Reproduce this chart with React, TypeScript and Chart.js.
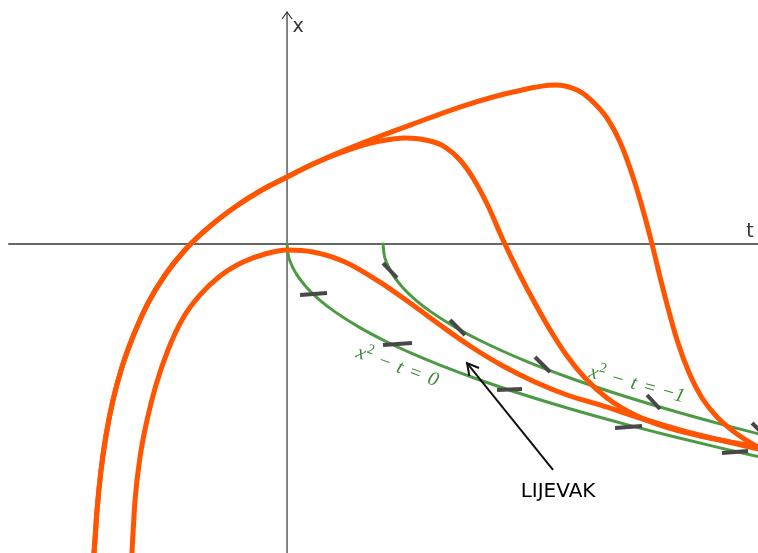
import React, { useEffect, useRef } from "react";
import { Chart, registerables } from "chart.js";

Chart.register(...registerables);

// Visible window of the (t, x) plane
const T_MIN = -2.99;
const T_MAX = 4.906;
const X_MIN = -3.219;
const X_MAX = 2.542;

// Solutions of x' = x^2 - t, as [t, x]
const solutionTop: [number, number][] = [
  [-2.031, -3.396], [-2.01, -3.208], [-1.979, -2.771], [-1.9375, -2.354], [-1.885, -1.99],
  [-1.8125, -1.625], [-1.719, -1.281], [-1.594, -0.9375], [-1.448, -0.615], [-1.271, -0.323],
  [-1.063, -0.0625], [-0.823, 0.167], [-0.542, 0.385], [-0.281, 0.552], [0, 0.698],
  [0.271, 0.833], [0.552, 0.958], [0.865, 1.083], [1.3125, 1.25], [1.833, 1.4375],
  [2.354, 1.583], [2.792, 1.656], [3.021, 1.604], [3.156, 1.51], [3.333, 1.3125],
  [3.469, 1.0625], [3.604, 0.698], [3.708, 0.354], [3.802, 0], [3.906, -0.427],
  [4.0625, -1.0], [4.198, -1.365], [4.323, -1.604], [4.479, -1.802], [4.6875, -1.979],
  [4.906, -2.115], [5.031, -2.177],
];

const solutionMiddle: [number, number][] = [
  [-2.031, -3.396], [-2.01, -3.208], [-1.979, -2.771], [-1.9375, -2.354], [-1.885, -1.99],
  [-1.8125, -1.625], [-1.719, -1.281], [-1.594, -0.9375], [-1.448, -0.615], [-1.271, -0.323],
  [-1.063, -0.0625], [-0.823, 0.167], [-0.542, 0.385], [-0.281, 0.552], [0, 0.698],
  [0.271, 0.833], [0.552, 0.948], [0.792, 1.031], [0.969, 1.073], [1.229, 1.104],
  [1.49, 1.073], [1.646, 1.01], [1.802, 0.875], [1.9375, 0.6875], [2.094, 0.396],
  [2.25, 0.042], [2.427, -0.323], [2.604, -0.656], [2.76, -0.927], [2.917, -1.167],
  [3.104, -1.396], [3.333, -1.604], [3.604, -1.771], [3.9375, -1.906], [4.302, -2.0],
  [4.615, -2.0625], [4.906, -2.115], [5.031, -2.146],
];

const solutionLow: [number, number][] = [
  [-1.625, -3.396], [-1.615, -3.208], [-1.583, -2.667], [-1.531, -2.219], [-1.458, -1.833],
  [-1.365, -1.469], [-1.24, -1.104], [-1.083, -0.771], [-0.906, -0.531], [-0.698, -0.333],
  [-0.458, -0.1875], [-0.229, -0.104], [0, -0.0625], [0.271, -0.083], [0.604, -0.1875],
  [0.948, -0.385], [1.281, -0.615], [1.594, -0.844], [1.906, -1.0625], [2.25, -1.271],
  [2.583, -1.4375], [2.917, -1.573], [3.26, -1.677], [3.677, -1.8125], [4.094, -1.9375],
  [4.51, -2.042], [4.906, -2.135], [5.031, -2.167],
];

// Isoclines x^2 - t = 0 and x^2 - t = -1 (lower branches)
const isoclineZero: [number, number][] = [
  [0, 0], [0.01, -0.1], [0.04, -0.2], [0.1, -0.316], [0.2, -0.447], [0.35, -0.592],
  [0.5, -0.707], [0.75, -0.866], [1.0, -1.0], [1.3, -1.14], [1.6, -1.265], [2.0, -1.414],
  [2.5, -1.581], [3.0, -1.732], [3.5, -1.871], [4.0, -2.0], [4.5, -2.121], [5.0, -2.236],
];

const isoclineMinusOne: [number, number][] = [
  [1.0, 0], [1.01, -0.1], [1.04, -0.2], [1.1, -0.316], [1.2, -0.447], [1.35, -0.592],
  [1.5, -0.707], [1.75, -0.866], [2.0, -1.0], [2.5, -1.225], [3.0, -1.414], [3.5, -1.581],
  [4.0, -1.732], [4.5, -1.871], [5.0, -2.0],
];

// Direction-field marks: [t1, x1, t2, x2]
const slopeMarksZero: [number, number, number, number][] = [
  [0.135, -0.531, 0.417, -0.51],
  [1.0, -1.052, 1.302, -1.031],
  [2.1875, -1.521, 2.448, -1.51],
  [3.417, -1.917, 3.698, -1.896],
  [4.531, -2.177, 4.802, -2.156],
];
const slopeMarksMinusOne: [number, number, number, number][] = [
  [1.0, -0.198, 1.146, -0.354],
  [1.698, -0.792, 1.854, -0.948],
  [2.583, -1.177, 2.74, -1.333],
  [3.75, -1.573, 3.885, -1.719],
  [4.844, -1.865, 4.99, -2.01],
];

const axisT: [number, number][] = [[-2.896, 0], [5.1, 0]];
const axisX: [number, number][] = [[0, -3.4], [0, 2.417]];

const ORANGE = "#ff5500";
const GREEN = "#4c9a44";
const LABEL_GREEN = "#3b8a34";
const MARK = "#484848";

const pts = (a: [number, number][]) => a.map(([x, y]) => ({ x, y }));

type Part = { s: string; italic?: boolean; scale?: number; dy?: number; gap?: number };

function drawMath(ctx: CanvasRenderingContext2D, x: number, y: number, angleDeg: number, parts: Part[], size: number, color: string) {
  ctx.save();
  ctx.translate(x, y);
  ctx.rotate((angleDeg * Math.PI) / 180);
  ctx.fillStyle = color;
  ctx.textBaseline = "alphabetic";
  ctx.textAlign = "left";
  let cx = 0;
  for (const p of parts) {
    ctx.font = `${p.italic ? "italic " : ""}${Math.round(size * (p.scale || 1))}px 'Liberation Serif'`;
    ctx.fillText(p.s, cx, p.dy ? -size * p.dy : 0);
    cx += ctx.measureText(p.s).width + (p.gap || 0);
  }
  ctx.restore();
}

const annotations = {
  id: "annotations",
  afterDatasetsDraw(chart: any) {
    const { ctx } = chart;
    const sx = chart.scales.x;
    const sy = chart.scales.y;
    const px = (t: number) => sx.getPixelForValue(t);
    const py = (v: number) => sy.getPixelForValue(v);
    ctx.save();

    // arrowhead on the x axis (vertical)
    const tipX = px(0), tipY = py(2.417);
    ctx.strokeStyle = "#333";
    ctx.lineWidth = 1.2;
    ctx.beginPath();
    ctx.moveTo(tipX - 5, tipY + 7);
    ctx.lineTo(tipX, tipY);
    ctx.lineTo(tipX + 5, tipY + 7);
    ctx.stroke();

    // axis labels
    ctx.fillStyle = "#333";
    ctx.font = "19px 'DejaVu Sans'";
    ctx.textAlign = "center";
    ctx.textBaseline = "middle";
    ctx.fillText("x", px(0.115), py(2.26));
    ctx.fillText("t", px(4.823), py(0.125));

    // LIJEVAK arrow
    const ax1 = px(2.771), ay1 = py(-2.354);
    const ax2 = px(1.875), ay2 = py(-1.24);
    ctx.strokeStyle = "#111";
    ctx.lineWidth = 2;
    ctx.beginPath();
    ctx.moveTo(ax1, ay1);
    ctx.lineTo(ax2, ay2);
    ctx.stroke();
    const ang = Math.atan2(ay2 - ay1, ax2 - ax1);
    const hl = 13, ha = 0.5;
    ctx.beginPath();
    ctx.moveTo(ax2 - hl * Math.cos(ang - ha), ay2 - hl * Math.sin(ang - ha));
    ctx.lineTo(ax2, ay2);
    ctx.lineTo(ax2 - hl * Math.cos(ang + ha), ay2 - hl * Math.sin(ang + ha));
    ctx.stroke();

    ctx.fillStyle = "#000";
    ctx.font = "20px 'DejaVu Sans'";
    ctx.textAlign = "center";
    ctx.textBaseline = "middle";
    ctx.fillText("LIJEVAK", px(2.823), py(-2.583));

    // isocline labels
    drawMath(ctx, px(0.708), py(-1.177), 20, [
      { s: "x", italic: true },
      { s: "2", scale: 0.7, dy: 0.42, gap: 8 },
      { s: "\u2212", gap: 8 },
      { s: "t", italic: true, gap: 8 },
      { s: "=", gap: 8 },
      { s: "0", italic: true },
    ], 20, LABEL_GREEN);

    drawMath(ctx, px(3.135), py(-1.385), 15, [
      { s: "x", italic: true },
      { s: "2", scale: 0.7, dy: 0.42, gap: 8 },
      { s: "\u2212", gap: 8 },
      { s: "t", italic: true, gap: 8 },
      { s: "=", gap: 8 },
      { s: "\u2212", gap: 1 },
      { s: "1", italic: true },
    ], 20, LABEL_GREEN);

    ctx.restore();
  },
};

export default function App() {
  const ref = useRef<HTMLCanvasElement | null>(null);

  useEffect(() => {
    if (!ref.current) return;
    const line = (data: [number, number][], color: string, width: number, order: number, smooth = true) => ({
      data: pts(data),
      showLine: true,
      borderColor: color,
      backgroundColor: color,
      borderWidth: width,
      pointRadius: 0,
      cubicInterpolationMode: smooth ? ("monotone" as const) : ("default" as const),
      tension: 0,
      fill: false,
      order,
      borderCapStyle: "round" as const,
      borderJoinStyle: "round" as const,
    });
    const marks = [...slopeMarksZero, ...slopeMarksMinusOne].map(([a, b, c, d]) => ({
      data: [{ x: a, y: b }, { x: c, y: d }],
      showLine: true,
      borderColor: MARK,
      borderWidth: 4,
      pointRadius: 0,
      tension: 0,
      order: 2,
      borderCapStyle: "butt" as const,
    }));

    const chart = new Chart(ref.current, {
      type: "scatter",
      data: {
        datasets: [
          line(solutionTop, ORANGE, 5, 0),
          line(solutionMiddle, ORANGE, 5, 0),
          line(solutionLow, ORANGE, 5, 0),
          ...marks,
          line(isoclineZero, GREEN, 3, 3),
          line(isoclineMinusOne, GREEN, 3, 3),
          line(axisT, "#666", 2, 4, false),
          line(axisX, "#333", 1.2, 4, false),
        ] as any,
      },
      options: {
        animation: false,
        responsive: false,
        maintainAspectRatio: false,
        layout: { padding: 0 },
        plugins: { legend: { display: false }, tooltip: { enabled: false } },
        scales: {
          x: { type: "linear", min: T_MIN, max: T_MAX, display: false },
          y: { type: "linear", min: X_MIN, max: X_MAX, display: false },
        },
      },
      plugins: [annotations],
    });
    return () => chart.destroy();
  }, []);

  return (
    <div style={{ position: "absolute", left: 0, top: 0, width: 758, height: 553, background: "#fff" }}>
      <canvas ref={ref} width={758} height={553} style={{ width: 758, height: 553, display: "block" }} />
    </div>
  );
}
